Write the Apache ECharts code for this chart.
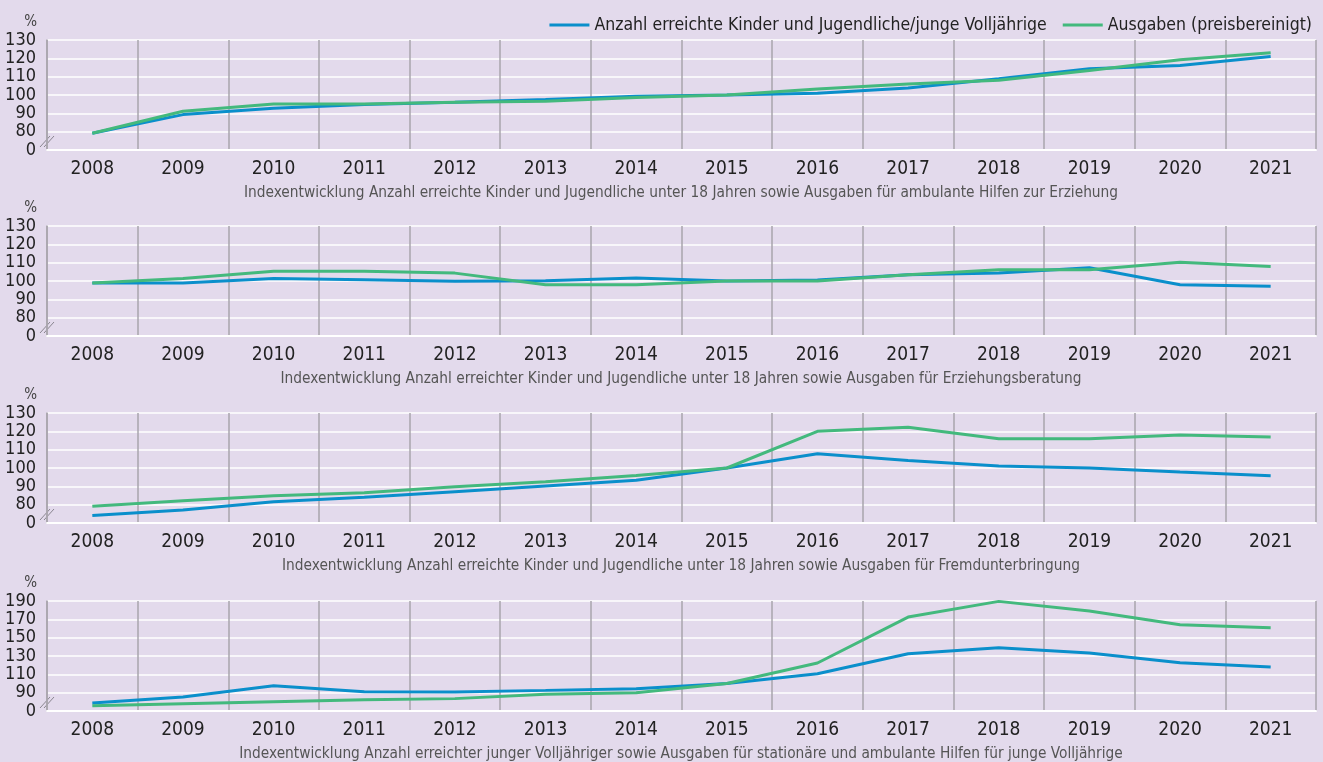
<!DOCTYPE html>
<html>
<head>
<meta charset="utf-8">
<script src="https://cdn.jsdelivr.net/npm/echarts@6/dist/echarts.min.js"></script>
<style>
  html, body { margin: 0; padding: 0; background: #e3daec; }
  #chart { width: 1323px; height: 762px; }
</style>
</head>
<body>
<div id="chart"></div>
<script>
var years = ['2008','2009','2010','2011','2012','2013','2014','2015','2016','2017','2018','2019','2020','2021'];

var kinder1   = [79.1, 89.3, 92.8, 94.8, 96.0, 97.5, 99.3, 100, 100.9, 103.8, 108.9, 114.3, 116.1, 121.0];
var ausgaben1 = [79.1, 91.1, 95.1, 95.1, 96.0, 96.6, 98.6, 100, 103.3, 106.0, 108.0, 113.4, 119.2, 123.1];

var kinder2   = [98.9, 98.9, 101.3, 100.7, 99.8, 100.2, 101.6, 100, 100.5, 103.4, 104.3, 107.2, 98.0, 97.1];
var ausgaben2 = [98.9, 101.3, 105.3, 105.3, 104.3, 98.0, 98.0, 100, 100.0, 103.4, 106.1, 106.1, 110.2, 107.9];

var kinder3   = [74.1, 77.1, 81.6, 84.0, 87.1, 90.2, 93.3, 100, 107.8, 104.1, 101.1, 100.0, 97.8, 95.8];
var ausgaben3 = [79.1, 82.2, 84.9, 86.5, 89.8, 92.5, 95.9, 100, 120.0, 122.2, 116.0, 116.0, 118.0, 116.9];

var kinder4   = [78.7, 85.3, 97.6, 91.1, 90.7, 92.5, 94.4, 100, 110.7, 132.5, 139.1, 133.3, 122.7, 118.0];
var ausgaben4 = [75.8, 78.0, 80.2, 82.4, 83.5, 88.2, 90.0, 100, 122.4, 172.5, 189.6, 179.1, 164.2, 160.9];

var seriesNames = ['Anzahl erreichte Kinder und Jugendliche/junge Volljährige', 'Ausgaben (preisbereinigt)'];
var subtitles = [
  'Indexentwicklung Anzahl erreichte Kinder und Jugendliche unter 18 Jahren sowie Ausgaben für ambulante Hilfen zur Erziehung',
  'Indexentwicklung Anzahl erreichter Kinder und Jugendliche unter 18 Jahren sowie Ausgaben für Erziehungsberatung',
  'Indexentwicklung Anzahl erreichte Kinder und Jugendliche unter 18 Jahren sowie Ausgaben für Fremdunterbringung',
  'Indexentwicklung Anzahl erreichter junger Volljähriger sowie Ausgaben für stationäre und ambulante Hilfen für junge Volljährige'
];
var axisMax = [130, 130, 130, 190];
var axisStep = [10, 10, 10, 20];
var blueData = [kinder1, kinder2, kinder3, kinder4];
var greenData = [ausgaben1, ausgaben2, ausgaben3, ausgaben4];

var FONT = "'DejaVu Sans Condensed', 'Liberation Sans', sans-serif";
var BLUE = '#0a8fcb';
var GREEN = '#43b97d';
var tops = [40, 226, 413, 601];
var plotH = 110;
var plotLeft = 47;
var plotRight = 7;

var chart = echarts.init(document.getElementById('chart'));

var grid = [], xAxis = [], yAxis = [], series = [], title = [], graphic = [];
for (var i = 0; i < 4; i++) {
    grid.push({ left: plotLeft, right: plotRight, top: tops[i], height: plotH });
    xAxis.push({
        type: 'category',
        gridIndex: i,
        data: years,
        boundaryGap: true,
        axisLine: { show: true, lineStyle: { color: '#ffffff', width: 2 } },
        axisTick: { show: false },
        axisLabel: { fontSize: 19, color: '#222', margin: 10, fontFamily: FONT },
        splitLine: { show: true, lineStyle: { color: '#a9a5ad', width: 1.5 } }
    });
    yAxis.push({
        type: 'value',
        gridIndex: i,
        min: 70,
        max: axisMax[i],
        interval: axisStep[i],
        name: '%',
        nameLocation: 'end',
        nameGap: 10,
        nameTextStyle: { fontSize: 15, color: '#444', align: 'right', padding: [0, 10, 0, 0], fontFamily: FONT },
        axisLine: { show: true, lineStyle: { color: '#a9a5ad', width: 1.5 } },
        axisTick: { show: false },
        axisLabel: {
            fontSize: 18, color: '#222', margin: 11, fontFamily: FONT,
            showMinLabel: true, showMaxLabel: true, hideOverlap: false,
            formatter: function (v) { return v === 70 ? '0' : String(v); }
        },
        splitLine: { show: true, lineStyle: { color: '#ffffff', width: 1.5 } }
    });
    series.push({
        name: seriesNames[0], type: 'line', xAxisIndex: i, yAxisIndex: i,
        data: blueData[i], symbol: 'none', color: BLUE,
        lineStyle: { width: 3, color: BLUE }, z: 3
    });
    series.push({
        name: seriesNames[1], type: 'line', xAxisIndex: i, yAxisIndex: i,
        data: greenData[i], symbol: 'none', color: GREEN,
        lineStyle: { width: 3, color: GREEN }, z: 4
    });
    title.push({
        text: subtitles[i],
        left: 681,
        textAlign: 'center',
        top: tops[i] + plotH + 36,
        padding: 0,
        textStyle: { fontSize: 15.3, fontWeight: 'normal', color: '#555', fontFamily: FONT }
    });
    // axis break marks "//"
    var b = tops[i] + plotH;
    graphic.push({ type: 'line', shape: { x1: 40, y1: b - 3, x2: 50, y2: b - 14 }, style: { stroke: '#8a8690', lineWidth: 1 } });
    graphic.push({ type: 'line', shape: { x1: 44, y1: b - 3, x2: 54, y2: b - 14 }, style: { stroke: '#8a8690', lineWidth: 1 } });
}

chart.setOption({
    backgroundColor: '#e3daec',
    textStyle: { fontFamily: FONT },
    animation: false,
    title: title,
    legend: {
        data: seriesNames,
        right: 6,
        top: 11,
        icon: 'rect',
        itemWidth: 40,
        itemHeight: 3,
        itemGap: 16,
        textStyle: { fontSize: 17.5, color: '#222', fontFamily: FONT }
    },
    grid: grid,
    xAxis: xAxis,
    yAxis: yAxis,
    series: series,
    graphic: graphic
});
</script>
</body>
</html>
